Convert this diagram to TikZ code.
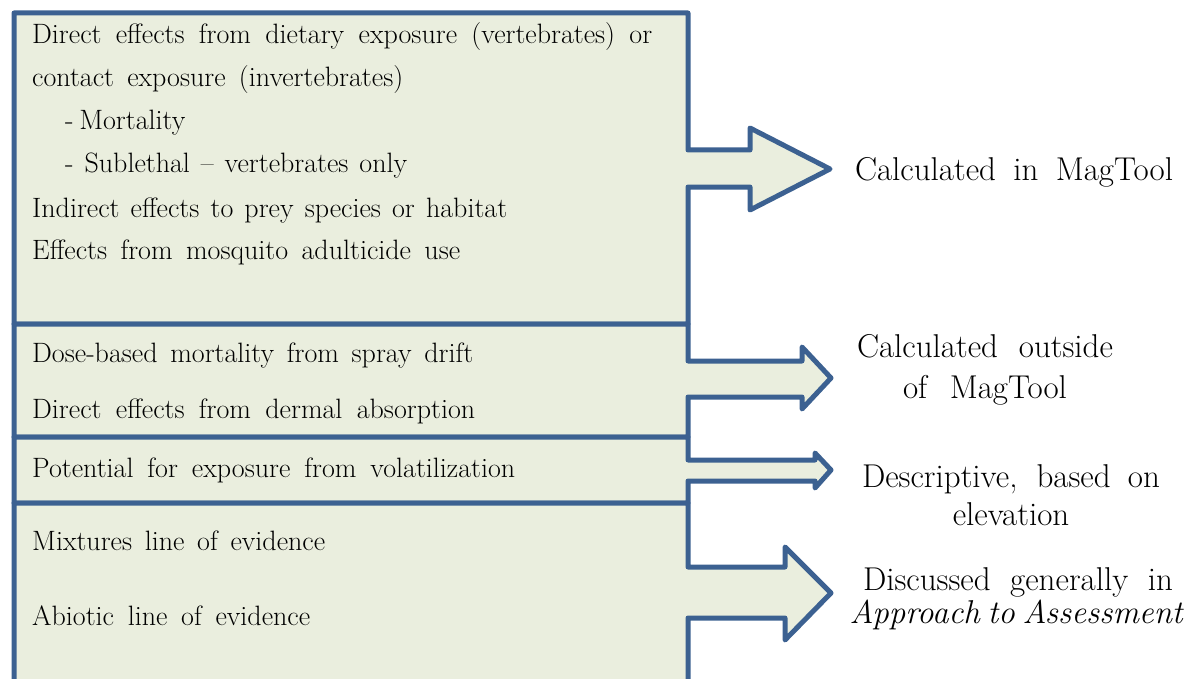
\documentclass[tikz,border=0pt]{standalone}
\usepackage{fontspec}
\usetikzlibrary{positioning}
\definecolor{mtfill}{RGB}{234,238,222}
\definecolor{mtline}{RGB}{60,97,145}
\newcommand{\fitrow}[2]{\makebox[#1pt][s]{#2}}
\tikzset{
  mt/box/.style={
    draw=mtline,
    fill=mtfill,
    line width=5pt,
    line join=round
  },
  mt/item/.style={anchor=base west, inner sep=0pt, font=\fontsize{28}{33}\selectfont},
  mt/label/.style={anchor=base, inner sep=0pt, font=\fontsize{33}{39}\selectfont}
}
\begin{document}
\begin{tikzpicture}[x=1pt, y=-1pt]

\useasboundingbox (0,0) rectangle (1190,679);
\clip (0,0) rectangle (1190,679);

% --- callout blocks
\draw[mt/box] (14,13) -- (688,13) -- (688,150) -- (750,150) -- (750,128) -- (830,169)
  -- (750,210) -- (750,187) -- (688,187) -- (688,324) -- (14,324) -- cycle;
\draw[mt/box] (14,324) -- (688,324) -- (688,361) -- (802,361) -- (802,347) -- (831,378)
  -- (802,409) -- (802,397) -- (688,397) -- (688,437) -- (14,437) -- cycle;
\draw[mt/box] (14,437) -- (688,437) -- (688,460) -- (815,460) -- (815,453) -- (831,470)
  -- (815,488) -- (815,481) -- (688,481) -- (688,503) -- (14,503) -- cycle;
\draw[mt/box] (14,503) -- (688,503) -- (688,567) -- (785,567) -- (785,547) -- (831,593)
  -- (785,640) -- (785,618) -- (688,618) -- (688,700) -- (14,700) -- cycle;

% --- block texts
\node[mt/item] (diet1) at (32,44)  {\fitrow{620}{Direct effects from dietary exposure (vertebrates) or}};
\node[mt/item] (diet2) at (32,87)  {\fitrow{371}{contact exposure (invertebrates)}};
\node[mt/item] (mort)  at (65,130) {\fitrow{120}{- Mortality}};
\node[mt/item] (subl)  at (65,173) {\fitrow{342}{- Sublethal -- vertebrates only}};
\node[mt/item] (prey)  at (32,217) {\fitrow{475}{Indirect effects to prey species or habitat}};
\node[mt/item] (mosq)  at (32,259) {\fitrow{428}{Effects from mosquito adulticide use}};

\node[mt/item] (drift) at (32,362) {\fitrow{441}{Dose-based mortality from spray drift}};
\node[mt/item] (derm)  at (32,418) {\fitrow{443}{Direct effects from dermal absorption}};

\node[mt/item] (volat) at (32,477) {\fitrow{483}{Potential for exposure from volatilization}};

\node[mt/item] (mixt)  at (32,550) {\fitrow{293}{Mixtures line of evidence}};
\node[mt/item] (abio)  at (32,625) {\fitrow{278}{Abiotic line of evidence}};

% --- labels at the arrow tips
\node[mt/label] (inmt)   at (1014,180) {\fitrow{318}{Calculated in MagTool}};
\node[mt/label] (outmt)  at (985,357)  {\fitrow{256}{Calculated outside}};
\node[mt/label] (outmt2) at (985,398)  {\fitrow{164}{of MagTool}};
\node[mt/label] (descr)  at (1011,487) {\fitrow{298}{Descriptive, based on}};
\node[mt/label] (descr2) at (1011,525) {elevation};
\node[mt/label] (disc)   at (1018,590) {\fitrow{310}{Discussed generally in}};
\node[mt/label] (disc2)  at (1016,623) {\fitrow{333}{\itshape Approach to Assessment}};

\end{tikzpicture}
\end{document}
